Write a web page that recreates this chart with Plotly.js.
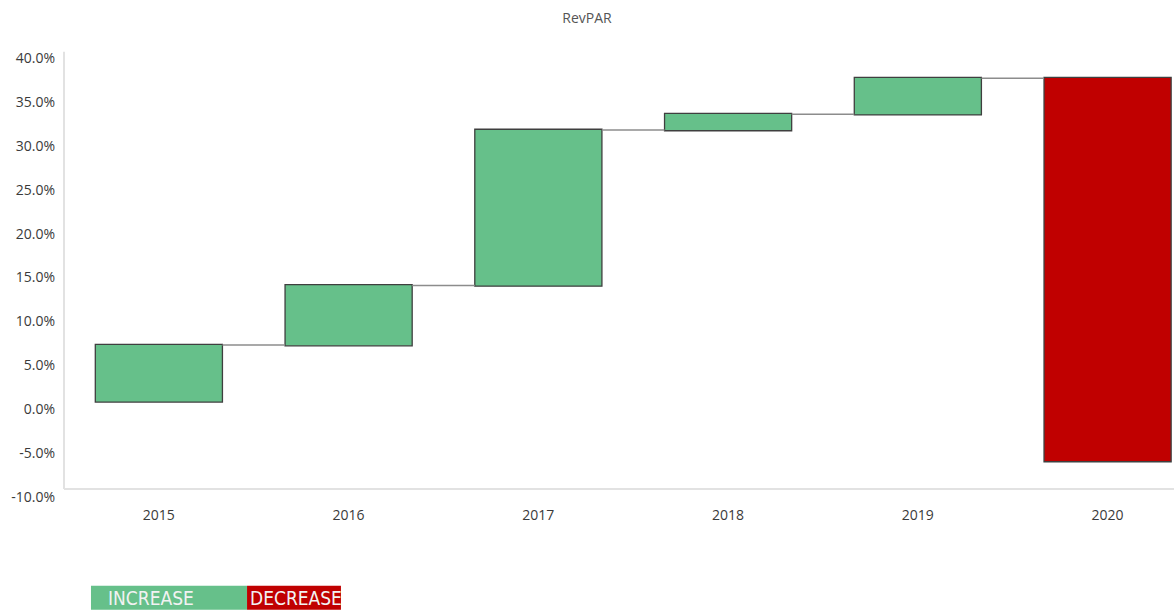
<!DOCTYPE html>
<html><head><meta charset="utf-8">
<script src="https://cdn.plot.ly/plotly-3.0.1.min.js"></script>
<style>html,body{margin:0;padding:0;background:#fff;}#chart{width:1174px;height:612px;}</style>
</head><body><div id="chart"></div>
<script>
const years = ['2015','2016','2017','2018','2019','2020'];
const changes = [6.4, 6.8, 17.7, 1.8, 4.1, -43.6];
const startBase = 0.9;
const tickVals = [-10,-5,0,5,10,15,20,25,30,35,40];
const tickText = ['-10.0%','-5.0%','0.0%','5.0%','10.0%','15.0%','20.0%','25.0%','30.0%','35.0%','40.0%'];

const trace = {
  type: 'waterfall',
  x: years,
  y: changes,
  base: startBase,
  measure: years.map(() => 'relative'),
  width: years.map(() => 0.67),
  increasing: {marker: {color: '#66c08a', line: {color: '#3f3f3f', width: 1.3}}},
  decreasing: {marker: {color: '#c00000', line: {color: '#3f3f3f', width: 1.3}}},
  connector: {line: {color: '#8c8c8c', width: 1.5}, mode: 'between'},
  hoverinfo: 'skip',
  textinfo: 'none'
};

const layout = {
  width: 1174, height: 612,
  paper_bgcolor: '#fff', plot_bgcolor: '#fff',
  margin: {l: 64, r: 0, t: 58, b: 115},
  showlegend: false,
  title: {text: 'RevPAR', x: 0.5, xanchor: 'center', y: 0.97, yanchor: 'middle',
          font: {family: 'Open Sans, sans-serif', size: 14, color: '#555'}},
  xaxis: {type: 'category', range: [-0.5, 5.35], showgrid: false, zeroline: false, showline: false,
          ticks: '', ticklabelstandoff: 8,
          tickfont: {family: 'Open Sans, sans-serif', size: 14, color: '#3a3a3a'}},
  yaxis: {range: [-10, 40], tickvals: tickVals, ticktext: tickText,
          showgrid: false, zeroline: false, showline: false, ticks: '',
          ticklabelstandoff: 8,
          tickfont: {family: 'Open Sans, sans-serif', size: 14, color: '#3a3a3a'}},
  shapes: [
    {type: 'line', xref: 'paper', yref: 'y', x0: 0, x1: 1, y0: -9.1, y1: -9.1,
     line: {color: '#e2e2e2', width: 2}},
    {type: 'line', xref: 'paper', yref: 'paper', x0: 0, x1: 0, y0: 0.018, y1: 1.014,
     line: {color: '#e2e2e2', width: 2}},
    {type: 'rect', xref: 'paper', yref: 'paper', x0: 0.0243, x1: 0.1649, y0: -0.257, y1: -0.202,
     fillcolor: '#66c08a', line: {width: 0}},
    {type: 'rect', xref: 'paper', yref: 'paper', x0: 0.1649, x1: 0.2495, y0: -0.257, y1: -0.202,
     fillcolor: '#c00000', line: {width: 0}}
  ],
  annotations: [
    {xref: 'paper', yref: 'paper', x: 0.0377, y: -0.2295, text: 'INCREASE', showarrow: false,
     xanchor: 'left', yanchor: 'middle',
     font: {family: 'DejaVu Sans Condensed, Liberation Sans Narrow, sans-serif', size: 19, color: '#f2f2f2'}},
    {xref: 'paper', yref: 'paper', x: 0.1659, y: -0.2295, text: 'DECREASE', showarrow: false,
     xanchor: 'left', yanchor: 'middle',
     font: {family: 'DejaVu Sans Condensed, Liberation Sans Narrow, sans-serif', size: 19, color: '#f2f2f2'}}
  ]
};

Plotly.newPlot('chart', [trace], layout, {displayModeBar: false, staticPlot: true});
</script>
</body></html>
